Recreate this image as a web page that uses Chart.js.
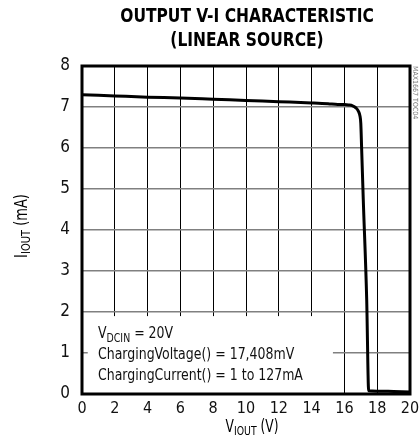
<!DOCTYPE html>
<html>
<head>
<meta charset="utf-8">
<script src="https://cdn.jsdelivr.net/npm/chart.js@4"></script>
<style>
  html, body { margin: 0; padding: 0; background: #fff; }
  #wrap { width: 419px; height: 444px; }
</style>
</head>
<body>
<div id="wrap"><canvas id="vi" width="419" height="444"></canvas></div>
<script>
// output voltage (V) vs output current (mA)
const vOut = [0, 2, 4, 6, 8, 10, 12, 14, 15, 15.6, 16, 16.25, 16.5, 16.7, 16.85, 16.95, 17.0, 17.05, 17.15, 17.36, 17.48, 18, 19, 20];
const iOut = [7.30, 7.27, 7.24, 7.22, 7.19, 7.16, 7.13, 7.10, 7.08, 7.06, 7.06, 7.05, 7.03, 6.98, 6.90, 6.78, 6.6, 6.0, 4.75, 2.3, 0.08, 0.07, 0.06, 0.05];

const xTicks = [0, 2, 4, 6, 8, 10, 12, 14, 16, 18, 20];
const yTicks = [0, 1, 2, 3, 4, 5, 6, 7, 8];

const titleLines = ['OUTPUT V-I CHARACTERISTIC', '(LINEAR SOURCE)'];
const noteLines = [
  ['V', 'DCIN', ' = 20V'],
  ['ChargingVoltage() = 17,408mV', '', ''],
  ['ChargingCurrent() = 1 to 127mA', '', '']
];

const NARROW = '"Liberation Sans Narrow", "DejaVu Sans Condensed", sans-serif';

const pts = vOut.map((v, i) => ({x: v, y: iOut[i]}));

// text with a subscript part [main, sub, rest], squeezed horizontally by sx
function subText(ctx, x, y, parts, size, sx) {
  ctx.save();
  ctx.translate(x, y);
  ctx.scale(sx, 1);
  let p = 0;
  ctx.font = size + 'px ' + NARROW;
  ctx.fillText(parts[0], p, 0);
  p += ctx.measureText(parts[0]).width;
  if (parts[1]) {
    ctx.font = Math.round(size * 0.75) + 'px ' + NARROW;
    ctx.fillText(parts[1], p, size * 0.22);
    p += ctx.measureText(parts[1]).width;
  }
  ctx.font = size + 'px ' + NARROW;
  ctx.fillText(parts[2], p, 0);
  ctx.restore();
}
function subWidth(ctx, parts, size, sx) {
  ctx.font = size + 'px ' + NARROW;
  let w = ctx.measureText(parts[0]).width + ctx.measureText(parts[2]).width;
  ctx.font = Math.round(size * 0.75) + 'px ' + NARROW;
  return (w + ctx.measureText(parts[1]).width) * sx;
}

const extras = {
  id: 'extras',
  beforeDatasetsDraw(chart) {
    const {ctx, scales: {x, y}} = chart;
    // white note box covering the grid in the lower left
    const l = x.getPixelForValue(0.35), r = x.getPixelForValue(15.3);
    const t = y.getPixelForValue(1.9), b = y.getPixelForValue(0);
    ctx.save();
    ctx.fillStyle = '#fff';
    ctx.fillRect(l, t, r - l, b - t);
    ctx.fillStyle = '#111';
    ctx.textBaseline = 'alphabetic';
    noteLines.forEach((p, i) => subText(ctx, 98, 338 + i * 21, p, 16, 0.87));
    ctx.restore();
  },
  afterDraw(chart) {
    const {ctx, chartArea: a} = chart;
    ctx.save();
    // frame
    ctx.strokeStyle = '#000';
    ctx.lineWidth = 3;
    ctx.strokeRect(a.left, a.top, a.right - a.left, a.bottom - a.top);

    // title
    ctx.fillStyle = '#000';
    ctx.textAlign = 'center';
    ctx.textBaseline = 'middle';
    ctx.font = 'bold 20px ' + NARROW;
    titleLines.forEach((s, i) => {
      ctx.save();
      ctx.translate(247, 17 + i * 24);
      ctx.scale(0.86, 1);
      ctx.fillText(s, 0, 0);
      ctx.restore();
    });

    // x axis title
    ctx.textAlign = 'left';
    ctx.textBaseline = 'middle';
    const xt = ['V', 'IOUT', ' (V)'];
    const xw = subWidth(ctx, xt, 17, 0.8);
    subText(ctx, 252 - xw / 2, 428, xt, 17, 0.8);

    // y axis title, rotated
    const yt = ['I', 'IOUT', ' (mA)'];
    const yw = subWidth(ctx, yt, 17, 0.85);
    ctx.translate(23, 226);
    ctx.rotate(-Math.PI / 2);
    subText(ctx, -yw / 2, 0, yt, 17, 0.85);
    ctx.restore();

    // tiny side label
    ctx.save();
    ctx.fillStyle = '#777';
    ctx.font = '7px ' + NARROW;
    ctx.translate(415, 66);
    ctx.rotate(Math.PI / 2);
    ctx.textBaseline = 'middle';
    ctx.fillText('MAX1667 TOC04', 0, 0);
    ctx.restore();
  }
};

new Chart(document.getElementById('vi'), {
  type: 'scatter',
  data: {
    datasets: [{
      data: pts,
      showLine: true,
      borderColor: '#000',
      borderWidth: 3,
      pointRadius: 0,
      cubicInterpolationMode: 'monotone'
    }]
  },
  options: {
    responsive: false,
    animation: false,
    layout: { padding: { top: 66, right: 9, left: 0, bottom: 0 } },
    plugins: { legend: { display: false }, tooltip: { enabled: false } },
    scales: {
      x: {
        type: 'linear',
        min: 0, max: 20,
        afterFit: s => { s.height = 50; s.paddingLeft = 0; s.paddingRight = 0; },
        afterBuildTicks: s => { s.ticks = xTicks.map(v => ({value: v})); },
        grid: { color: '#000', lineWidth: 1, drawTicks: false },
        border: { display: false },
        ticks: { color: '#111', padding: 5, font: { family: NARROW, size: 16 } }
      },
      y: {
        min: 0, max: 8,
        afterFit: s => { s.width = 82; s.paddingTop = 0; s.paddingBottom = 0; },
        afterBuildTicks: s => { s.ticks = yTicks.map(v => ({value: v})); },
        grid: { color: '#808080', lineWidth: 1.4, drawTicks: false },
        border: { display: false },
        ticks: { color: '#111', padding: 12, font: { family: NARROW, size: 17 } }
      }
    }
  },
  plugins: [extras]
});
</script>
</body>
</html>
